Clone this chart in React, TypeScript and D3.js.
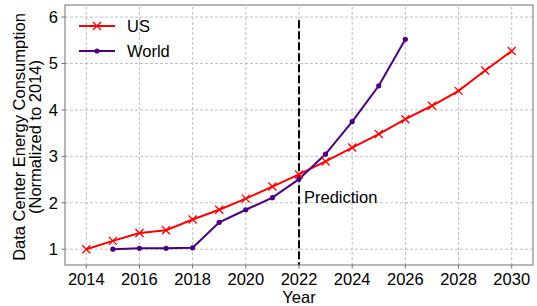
import React, {useEffect, useRef} from "react";
import * as d3 from "d3";

const usYears = [2014, 2015, 2016, 2017, 2018, 2019, 2020, 2021, 2022, 2023, 2024, 2025, 2026, 2027, 2028, 2029, 2030];
const usValues = [1.0, 1.18, 1.35, 1.41, 1.64, 1.85, 2.09, 2.35, 2.61, 2.89, 3.19, 3.48, 3.8, 4.09, 4.41, 4.85, 5.27];
const worldYears = [2015, 2016, 2017, 2018, 2019, 2020, 2021, 2022, 2023, 2024, 2025, 2026];
const worldValues = [1.0, 1.02, 1.02, 1.03, 1.58, 1.85, 2.11, 2.51, 3.05, 3.75, 4.52, 5.52];
const xTicks = [2014, 2016, 2018, 2020, 2022, 2024, 2026, 2028, 2030];
const yTicks = [1, 2, 3, 4, 5, 6];
const predictionYear = 2022;

const W = 537, H = 306;
const margin = {left: 65, right: 4, top: 5, bottom: 41};
const FONT = "'Liberation Sans', Arial, sans-serif";
const FS = "16.5px";

export default function App() {
    const ref = useRef<SVGSVGElement>(null);

    useEffect(() => {
        const svg = d3.select(ref.current);
        svg.selectAll("*").remove();

        const x = d3.scaleLinear().domain([2013.2, 2030.8]).range([margin.left, W - margin.right]);
        const y = d3.scaleLinear().domain([0.66, 6.26]).range([H - margin.bottom, margin.top]);

        const g = svg.append("g");

        // grid
        g.selectAll(".vgrid").data(xTicks).enter().append("line")
            .attr("x1", d => x(d)).attr("x2", d => x(d))
            .attr("y1", y.range()[0]).attr("y2", y.range()[1])
            .style("stroke", "#b0b0b0").style("stroke-width", 0.8).style("stroke-dasharray", "3,2");
        g.selectAll(".hgrid").data(yTicks).enter().append("line")
            .attr("y1", d => y(d)).attr("y2", d => y(d))
            .attr("x1", x.range()[0]).attr("x2", x.range()[1])
            .style("stroke", "#b0b0b0").style("stroke-width", 0.8).style("stroke-dasharray", "3,2");

        // prediction line
        g.append("line")
            .attr("x1", x(predictionYear)).attr("x2", x(predictionYear))
            .attr("y1", y(5.93)).attr("y2", y.range()[0])
            .style("stroke", "black").style("stroke-width", 2).style("stroke-dasharray", "8,3");

        const line = d3.line<[number, number]>().x(d => x(d[0])).y(d => y(d[1]));
        const us: [number, number][] = usYears.map((yr, i) => [yr, usValues[i]]);
        const world: [number, number][] = worldYears.map((yr, i) => [yr, worldValues[i]]);

        g.append("path").datum(us).attr("d", line)
            .style("fill", "none").style("stroke", "red").style("stroke-width", 2);
        g.append("path").datum(world).attr("d", line)
            .style("fill", "none").style("stroke", "indigo").style("stroke-width", 2);

        const cross = (sel: any, cx: number, cy: number) => {
            const s = 4;
            sel.append("path")
                .attr("d", `M${cx - s},${cy - s}L${cx + s},${cy + s}M${cx - s},${cy + s}L${cx + s},${cy - s}`)
                .style("stroke", "red").style("stroke-width", 1.3).style("fill", "none");
        };
        us.forEach(d => cross(g, x(d[0]), y(d[1])));
        g.selectAll(".wdot").data(world).enter().append("circle")
            .attr("cx", d => x(d[0])).attr("cy", d => y(d[1])).attr("r", 2.6)
            .style("fill", "indigo");

        // spines
        g.append("rect")
            .attr("x", margin.left).attr("y", margin.top)
            .attr("width", W - margin.left - margin.right).attr("height", H - margin.top - margin.bottom)
            .style("fill", "none").style("stroke", "#707070").style("stroke-width", 1);

        // ticks
        g.selectAll(".xt").data(xTicks).enter().append("line")
            .attr("x1", d => x(d)).attr("x2", d => x(d))
            .attr("y1", y.range()[0]).attr("y2", y.range()[0] + 3.5)
            .style("stroke", "#707070");
        g.selectAll(".xl").data(xTicks).enter().append("text")
            .attr("x", d => x(d)).attr("y", y.range()[0] + 20)
            .attr("text-anchor", "middle")
            .style("font-family", FONT).style("font-size", FS)
            .text(d => d);
        g.selectAll(".yt").data(yTicks).enter().append("line")
            .attr("x1", margin.left - 3.5).attr("x2", margin.left)
            .attr("y1", d => y(d)).attr("y2", d => y(d))
            .style("stroke", "#707070");
        g.selectAll(".yl").data(yTicks).enter().append("text")
            .attr("x", margin.left - 7).attr("y", d => y(d)).attr("dy", "0.35em")
            .attr("text-anchor", "end")
            .style("font-family", FONT).style("font-size", FS)
            .text(d => d);

        // axis labels
        g.append("text")
            .attr("x", x(2022)).attr("y", 302.5)
            .attr("text-anchor", "middle")
            .style("font-family", FONT).style("font-size", FS)
            .text("Year");
        const cy = 137;
        g.append("text")
            .attr("transform", `translate(24.5,${cy}) rotate(-90)`)
            .attr("text-anchor", "middle")
            .style("font-family", FONT).style("font-size", FS)
            .text("Data Center Energy Consumption");
        g.append("text")
            .attr("transform", `translate(41,${cy}) rotate(-90)`)
            .attr("text-anchor", "middle")
            .style("font-family", FONT).style("font-size", FS)
            .text("(Normalized to 2014)");

        // annotation
        g.append("text")
            .attr("x", x(predictionYear) + 5).attr("y", y(2) + 0.5)
            .style("font-family", FONT).style("font-size", FS)
            .text("Prediction");

        // legend
        const legend = [{label: "US", color: "red", mark: "x"}, {label: "World", color: "indigo", mark: "o"}];
        legend.forEach((l, i) => {
            const ly = 26 + i * 25;
            g.append("line").attr("x1", 79).attr("x2", 115).attr("y1", ly).attr("y2", ly)
                .style("stroke", l.color).style("stroke-width", 2);
            if (l.mark === "x") cross(g, 97, ly);
            else g.append("circle").attr("cx", 97).attr("cy", ly).attr("r", 2.6).style("fill", l.color);
            g.append("text").attr("x", 127).attr("y", ly).attr("dy", "0.35em")
                .style("font-family", FONT).style("font-size", FS)
                .text(l.label);
        });
    });

    return (
        <svg ref={ref} width={W} height={H} style={{position: "absolute", left: 0, top: 0}}/>
    );
}
